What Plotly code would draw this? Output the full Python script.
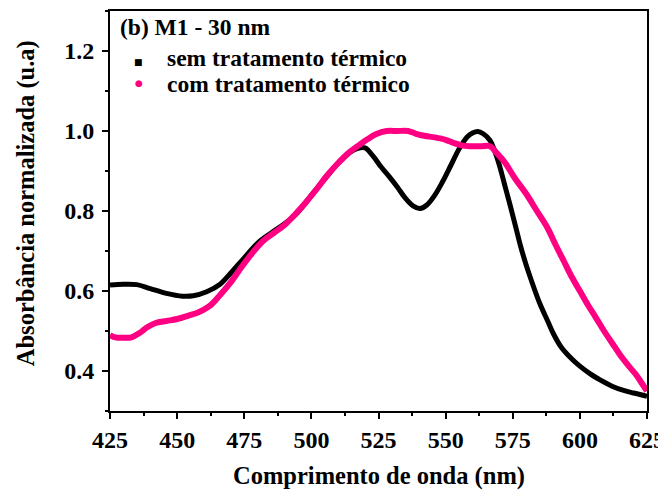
import plotly.graph_objects as go

# Wavelength (nm) and normalized absorbance
black_x = [425, 430, 435, 440, 446, 452, 456, 461, 466, 470, 475, 480, 485, 490, 495,
           500, 505, 510, 514, 517, 520, 523, 526, 529, 532, 535, 538, 540.5, 543, 546,
           549, 552, 555, 558, 560, 562, 564, 566.5, 568, 570, 572, 574, 576, 578, 580,
           582, 585, 588, 590, 593, 596, 600, 604, 608, 612, 616, 620, 625]
black_y = [0.615, 0.617, 0.616, 0.606, 0.594, 0.587, 0.588, 0.598, 0.617, 0.645, 0.683,
           0.720, 0.745, 0.768, 0.797, 0.840, 0.880, 0.920, 0.945, 0.956, 0.958, 0.937,
           0.910, 0.886, 0.860, 0.832, 0.812, 0.806, 0.815, 0.840, 0.875, 0.915, 0.955,
           0.985, 0.995, 0.999, 0.993, 0.977, 0.955, 0.915, 0.865, 0.815, 0.763, 0.710,
           0.665, 0.625, 0.570, 0.525, 0.495, 0.460, 0.437, 0.412, 0.392, 0.376, 0.362,
           0.352, 0.345, 0.337]

pink_x = [425, 427, 430, 433, 436, 439, 442, 446, 450, 454, 458, 462, 466, 470, 474, 478,
          482, 486, 490, 494, 498, 502, 506, 510, 514, 518, 521, 524, 528, 532, 536, 539,
          542, 546, 550, 553, 556, 559, 563, 566.5, 569, 572, 576, 580, 584, 588, 591,
          594, 597, 600, 603, 606, 609, 612, 615, 618, 621, 623, 625]
pink_y = [0.490, 0.484, 0.483, 0.484, 0.495, 0.510, 0.520, 0.525, 0.530, 0.538, 0.547,
          0.562, 0.590, 0.622, 0.660, 0.695, 0.725, 0.745, 0.765, 0.792, 0.822, 0.855,
          0.890, 0.920, 0.946, 0.966, 0.980, 0.992, 1.000, 1.000, 1.000, 0.993, 0.988,
          0.984, 0.978, 0.970, 0.964, 0.962, 0.962, 0.962, 0.945, 0.922, 0.880, 0.843,
          0.800, 0.757, 0.715, 0.675, 0.635, 0.600, 0.565, 0.533, 0.500, 0.470, 0.440,
          0.414, 0.390, 0.370, 0.350]

series_names = ["sem tratamento térmico", "com tratamento térmico"]
panel_label = "(b) M1 - 30 nm"
x_title = "Comprimento de onda (nm)"
y_title = "Absorbância normalizada (u.a)"
x_ticks = [425, 450, 475, 500, 525, 550, 575, 600, 625]
y_ticks = [0.4, 0.6, 0.8, 1.0, 1.2]

BLACK = "#000000"
PINK = "#FF0083"
FONT = "Liberation Serif, Times New Roman, serif"

fig = go.Figure()
fig.add_trace(go.Scatter(x=black_x, y=black_y, mode="lines", name=series_names[0],
                         line=dict(color=BLACK, width=5, shape="spline"),
                         showlegend=False))
fig.add_trace(go.Scatter(x=pink_x, y=pink_y, mode="lines", name=series_names[1],
                         line=dict(color=PINK, width=6, shape="spline"),
                         showlegend=False))

axis_common = dict(showline=True, linecolor="black", linewidth=2, mirror=True,
                   showgrid=False, zeroline=False, ticks="outside", ticklen=6,
                   tickwidth=2, tickcolor="black", automargin=False,
                   tickfont=dict(family=FONT, size=24, color="black", weight="bold"))

fig.update_xaxes(range=[425, 625], tickvals=x_ticks,
                 minor=dict(ticks="outside", ticklen=3, tickwidth=1.5, dtick=12.5,
                            tick0=425, tickcolor="black"),
                 **axis_common)
fig.update_yaxes(range=[0.3, 1.3], tickvals=y_ticks, tickformat=".1f",
                 ticklabelstandoff=3,
                 minor=dict(ticks="outside", ticklen=3, tickwidth=1.5, dtick=0.1,
                            tick0=0.3, tickcolor="black"),
                 **axis_common)

txt = dict(family=FONT, size=23.5, color="black", weight="bold")
title_font = dict(family=FONT, size=24.5, color="black", weight="bold")
annots = [
    dict(text=panel_label, x=0.0149, y=0.961, xanchor="left", font=txt),
    dict(text=series_names[0], x=0.1024, y=0.8825, xanchor="left", font=txt),
    dict(text=series_names[1], x=0.1024, y=0.8175, xanchor="left", font=txt),
    dict(text="■", x=0.054, y=0.8725, xanchor="center",
         font=dict(family="DejaVu Sans", size=9, color=BLACK)),
    dict(text="●", x=0.054, y=0.82, xanchor="center",
         font=dict(family="DejaVu Sans", size=9, color=PINK)),
    dict(text=x_title, x=0.5, y=-0.1625, xanchor="center", font=title_font),
    dict(text=y_title, x=-0.156, y=0.52, xanchor="center", textangle=-90,
         font=title_font),
]
for a in annots:
    a.update(xref="paper", yref="paper", yanchor="middle", showarrow=False)

# the page body adds an 8px offset; margins compensate so the plot box sits
# at x 110-647, y 11-411 in the window
fig.update_layout(
    width=666, height=491,
    margin=dict(l=102, r=27, t=3, b=88),
    plot_bgcolor="white", paper_bgcolor="white",
    showlegend=False,
    annotations=annots,
)

fig.write_html("out.html")
